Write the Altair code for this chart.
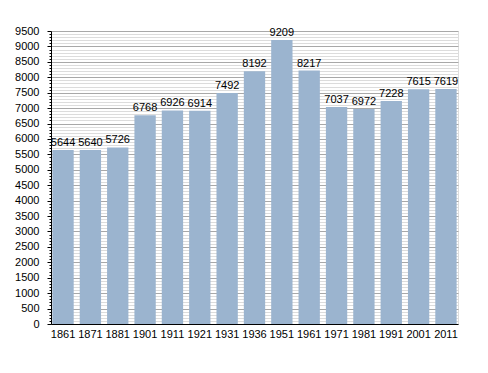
import altair as alt
import pandas as pd

years = ["1861", "1871", "1881", "1901", "1911", "1921", "1931", "1936",
         "1951", "1961", "1971", "1981", "1991", "2001", "2011"]
population = [5644, 5640, 5726, 6768, 6926, 6914, 7492, 8192,
              9209, 8217, 7037, 6972, 7228, 7615, 7619]
y_ticks = list(range(0, 9501, 100))

df = pd.DataFrame({"year": years, "pop": population})

FONT = "Liberation Sans"

x = alt.X("year:N", sort=years, title=None,
          scale=alt.Scale(paddingInner=0.22, paddingOuter=0.05),
          axis=alt.Axis(labelAngle=0, labelFontSize=11, labelColor="#000",
                        domainColor="#000", tickSize=0, labelPadding=4,
                        labelFont=FONT, labelOverlap=False))
y = alt.Y("pop:Q", title=None,
          scale=alt.Scale(domain=[0, 9500], nice=False),
          axis=alt.Axis(values=y_ticks, tickCount=200,
                        labelExpr="datum.value % 500 === 0 ? datum.label : ''",
                        format="d", labelOverlap=False, labelBound=False,
                        labelFontSize=11, labelColor="#000", labelFont=FONT,
                        domainColor="#000",
                        tickColor="#000",
                        tickSize={"condition": {"test": "datum.value % 500 === 0", "value": 4}, "value": 2},
                        gridColor={"condition": {"test": "datum.value % 500 === 0", "value": "#a8a8a8"}, "value": "#dcdcdc"},
                        gridWidth=1,
                        labelPadding=8))

bars = alt.Chart(df).mark_bar(color="#9bb4cf").encode(x=x, y=y)
labels = alt.Chart(df).mark_text(dy=-7, fontSize=11, font=FONT, color="#000").encode(
    x=alt.X("year:N", sort=years), y=alt.Y("pop:Q"), text="pop:Q")

chart = (bars + labels).properties(
    width=407, height=293,
    autosize=alt.AutoSizeParams(type="none"),
    padding={"left": 43, "top": 23, "right": 22, "bottom": 40},
).configure_view(stroke=None).configure(background="white")

chart.save("out.html", embed_options={"renderer": "svg", "actions": False})
